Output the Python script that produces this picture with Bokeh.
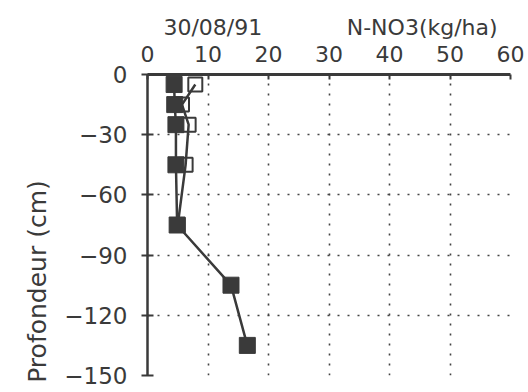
import math
from bokeh.plotting import figure
from bokeh.models import Range1d, Label, FixedTicker, LinearAxis
from bokeh.embed import file_html
from bokeh.resources import INLINE

# ---- data ----
depth_filled = [-5, -15, -25, -45, -75, -105, -135]
nno3_filled = [4.4, 4.5, 4.7, 4.7, 4.9, 13.8, 16.5]

depth_open = [-5, -15, -25, -45, -75]
nno3_open = [7.9, 5.7, 6.8, 6.3, 5.0]

x_ticks = [0, 10, 20, 30, 40, 50, 60]
y_ticks = [0, -30, -60, -90, -120, -150]
y_tick_labels = ["0", "\u221230", "\u221260", "\u221290", "\u2212120", "\u2212150"]

title_text = "30/08/91"
x_title = "N-NO3(kg/ha)"
y_title = "Profondeur (cm)"

# horizontal anchor (in x-axis units) of the two header texts
TITLE_AT = 10.8
XTITLE_AT = 45.4

INK = "#3a3a3a"
FONT = "DejaVu Sans"

p = figure(width=528, height=392, output_backend="svg", toolbar_location=None,
           x_range=Range1d(0, 60), y_range=Range1d(-150, 0),
           x_axis_location="above",
           min_border_left=147, min_border_right=18,
           min_border_top=74, min_border_bottom=17)
p.outline_line_color = None
p.background_fill_color = "white"

# axes
xa = p.xaxis[0]
xa.ticker = FixedTicker(ticks=x_ticks)
xa.axis_line_width = 3
xa.axis_line_color = INK
xa.major_tick_in = 5
xa.major_tick_out = 0
xa.major_tick_line_color = INK
xa.major_tick_line_width = 2
xa.minor_tick_line_color = None
xa.major_label_text_font = FONT
xa.major_label_text_font_size = "22px"
xa.major_label_text_color = INK
xa.major_label_standoff = 13

# header row (title + unit) drawn as labels of a bare extra top axis
hdr = LinearAxis(ticker=FixedTicker(ticks=[TITLE_AT, XTITLE_AT]),
                 major_label_overrides={TITLE_AT: title_text, XTITLE_AT: x_title},
                 axis_line_color=None, major_tick_line_color=None,
                 minor_tick_line_color=None, major_tick_in=0, major_tick_out=0,
                 major_label_text_font=FONT, major_label_text_font_size="22px",
                 major_label_text_color=INK, major_label_standoff=3)
p.add_layout(hdr, "above")

ya = p.yaxis[0]
ya.ticker = FixedTicker(ticks=y_ticks)
ya.major_label_overrides = {t: l for t, l in zip(y_ticks, y_tick_labels)}
ya.axis_line_width = 2.5
ya.axis_line_color = INK
ya.major_tick_in = 6
ya.major_tick_out = 6
ya.major_tick_line_color = INK
ya.major_tick_line_width = 2
ya.minor_tick_line_color = None
ya.major_label_text_font = FONT
ya.major_label_text_font_size = "23px"
ya.major_label_text_color = INK
ya.major_label_standoff = 14

# dotted grid
for g in (p.xgrid[0], p.ygrid[0]):
    g.grid_line_color = "#444444"
    g.grid_line_dash = "2 8"
    g.grid_line_width = 1.6
p.xgrid[0].ticker = FixedTicker(ticks=x_ticks[1:])
p.ygrid[0].ticker = FixedTicker(ticks=y_ticks[1:])

# open series
p.line(nno3_open, depth_open, line_color=INK, line_width=2.5)
p.scatter(nno3_open, depth_open, marker="square", size=14, fill_color=None,
          line_color=INK, line_width=2)

# filled series
p.line(nno3_filled, depth_filled, line_color=INK, line_width=2.5)
p.scatter(nno3_filled, depth_filled, marker="square", size=16, fill_color=INK,
          line_color=INK, line_width=1)

# vertical axis title (canvas pixel units, in the left side panel so it is not clipped)
p.add_layout(Label(x=37, y=281, x_units="canvas", y_units="canvas", text=y_title,
                   text_font=FONT, text_font_size="25px", text_color=INK,
                   angle=math.pi / 2, text_align="center", text_baseline="middle"), "left")

open("out.html", "w").write(file_html(p, INLINE))
